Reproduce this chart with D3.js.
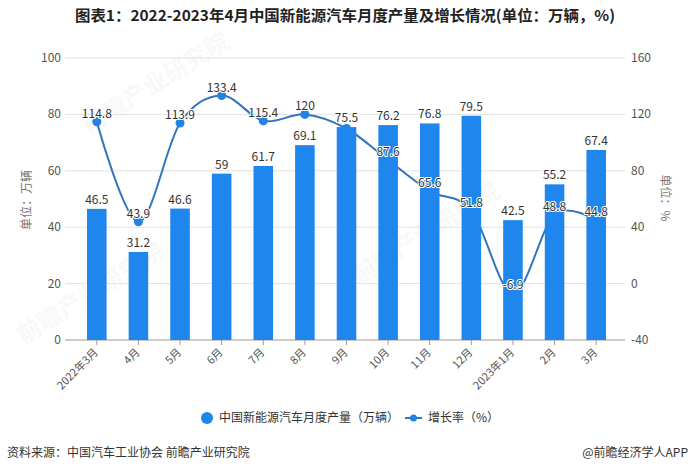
<!DOCTYPE html>
<html>
<head>
<meta charset="utf-8">
<script src="https://cdn.jsdelivr.net/npm/d3@7"></script>
<style>
  body { margin: 0; background: #fff; }
  svg text { font-family: "Noto Sans CJK SC", "Noto Sans", sans-serif; }
</style>
</head>
<body>
<div id="chart"></div>
<script>
// data
var months = ["2022年3月", "4月", "5月", "6月", "7月", "8月", "9月", "10月", "11月", "12月", "2023年1月", "2月", "3月"];
var output = [46.5, 31.2, 46.6, 59, 61.7, 69.1, 75.5, 76.2, 76.8, 79.5, 42.5, 55.2, 67.4];
var growth = [114.8, 43.9, 113.9, 133.4, 115.4, 120, 110, 87.6, 65.6, 51.8, -6.9, 48.8, 44.8];
var leftTicks = [0, 20, 40, 60, 80, 100];
var rightTicks = [-40, 0, 40, 80, 120, 160];

var svgWidth = 692;
var svgHeight = 472;

var barColor = "#1e86ec";
var lineColor = "#3274bd";
var dotColor = "#2283e2";

var svg = d3.select("#chart")
  .append("svg")
  .attr("width", svgWidth)
  .attr("height", svgHeight);

// faint watermarks
var marks = [[160, 90], [95, 300], [430, 240]];
marks.forEach(function(m) {
  svg.append("text")
    .attr("transform", `translate(${m[0]},${m[1]}) rotate(-32)`)
    .attr("text-anchor", "middle")
    .style("font-size", "24px")
    .style("font-weight", "bold")
    .style("fill", "#000")
    .style("opacity", 0.022)
    .text("前瞻产业研究院");
});

// title
svg.append("text")
  .attr("x", 75)
  .attr("y", 21)
  .attr("textLength", 540)
  .attr("lengthAdjust", "spacingAndGlyphs")
  .style("font-size", "15px")
  .style("font-weight", "bold")
  .style("fill", "#222")
  .text("图表1：2022-2023年4月中国新能源汽车月度产量及增长情况(单位：万辆，%)");

// scales
var x = d3.scaleBand()
  .domain(months)
  .range([76, 617])
  .paddingInner(0.53)
  .paddingOuter(0.265);

var yLeft = d3.scaleLinear().domain([0, 100]).range([340, 58]);
var yRight = d3.scaleLinear().domain([-40, 160]).range([340, 58]);

var gridLeft = 65, gridRight = 625;

// gridlines
svg.append("g")
  .selectAll("line")
  .data(leftTicks)
  .enter()
  .append("line")
  .attr("x1", gridLeft)
  .attr("x2", gridRight)
  .attr("y1", d => yLeft(d))
  .attr("y2", d => yLeft(d))
  .style("stroke", d => d === 0 ? "#9a9a9a" : "#e2e2e2")
  .style("stroke-width", 1);

// left tick labels
svg.append("g")
  .selectAll("text")
  .data(leftTicks)
  .enter()
  .append("text")
  .attr("x", 61)
  .attr("y", d => yLeft(d) + 4)
  .attr("text-anchor", "end")
  .style("font-size", "12px")
  .style("fill", "#555")
  .text(d => d);

// right tick labels
svg.append("g")
  .selectAll("text")
  .data(rightTicks)
  .enter()
  .append("text")
  .attr("x", 631)
  .attr("y", d => yRight(d) + 4)
  .style("font-size", "12px")
  .style("fill", "#555")
  .text(d => d);

// axis titles
svg.append("text")
  .attr("transform", "translate(31,200) rotate(-90)")
  .attr("text-anchor", "middle")
  .style("font-size", "12px")
  .style("fill", "#777")
  .text("单位：万辆");

svg.append("text")
  .attr("transform", "translate(661,198) rotate(90)")
  .attr("text-anchor", "middle")
  .style("font-size", "12px")
  .style("fill", "#777")
  .text("单位：%");

// x axis ticks and labels
var xAxis = svg.append("g");
xAxis.selectAll("line")
  .data(months)
  .enter()
  .append("line")
  .attr("x1", d => x(d) + x.bandwidth() / 2)
  .attr("x2", d => x(d) + x.bandwidth() / 2)
  .attr("y1", 340)
  .attr("y2", 345)
  .style("stroke", "#9a9a9a");

xAxis.selectAll("text")
  .data(months)
  .enter()
  .append("text")
  .attr("transform", d => `translate(${x(d) + x.bandwidth() / 2 + 2},${353}) rotate(-45)`)
  .attr("text-anchor", "end")
  .style("font-size", "11px")
  .style("fill", "#555")
  .text(d => d);

// growth line (drawn behind the bars)
var linePoints = months.map((m, i) => [x(m) + x.bandwidth() / 2, yRight(growth[i])]);

svg.append("path")
  .datum(linePoints)
  .attr("d", d3.line().curve(d3.curveCatmullRom.alpha(0)))
  .style("fill", "none")
  .style("stroke", lineColor)
  .style("stroke-width", 2);

svg.append("g")
  .selectAll("circle")
  .data(linePoints)
  .enter()
  .append("circle")
  .attr("cx", d => d[0])
  .attr("cy", d => d[1])
  .attr("r", 4.5)
  .style("fill", dotColor);

// bars
svg.append("g")
  .selectAll("rect")
  .data(output)
  .enter()
  .append("rect")
  .attr("x", (d, i) => x(months[i]))
  .attr("y", d => yLeft(d))
  .attr("width", x.bandwidth())
  .attr("height", d => 340 - yLeft(d))
  .style("fill", barColor);

// bar labels
var barLabelY = output.map(d => yLeft(d) - 5);
svg.append("g")
  .selectAll("text")
  .data(output)
  .enter()
  .append("text")
  .attr("x", (d, i) => x(months[i]) + x.bandwidth() / 2)
  .attr("y", (d, i) => barLabelY[i])
  .attr("text-anchor", "middle")
  .style("font-size", "12px")
  .style("fill", "#333")
  .style("stroke", "#fff")
  .style("stroke-width", 2)
  .style("paint-order", "stroke")
  .text(d => d);

// line labels, hidden where they would overlap a bar label
svg.append("g")
  .selectAll("text")
  .data(growth)
  .enter()
  .append("text")
  .attr("x", (d, i) => linePoints[i][0])
  .attr("y", d => yRight(d) - 4)
  .attr("text-anchor", "middle")
  .style("display", (d, i) => Math.abs(yRight(d) - 4 - barLabelY[i]) > 12 ? null : "none")
  .style("font-size", "12px")
  .style("fill", "#333")
  .style("stroke", "#fff")
  .style("stroke-width", 2)
  .style("paint-order", "stroke")
  .text(d => d);

// legend
var legend = svg.append("g");
legend.append("circle")
  .attr("cx", 207)
  .attr("cy", 418)
  .attr("r", 6)
  .style("fill", barColor);
legend.append("text")
  .attr("x", 219)
  .attr("y", 422)
  .style("font-size", "12px")
  .style("fill", "#333")
  .text("中国新能源汽车月度产量（万辆）");
legend.append("line")
  .attr("x1", 405)
  .attr("x2", 422)
  .attr("y1", 418)
  .attr("y2", 418)
  .style("stroke", lineColor)
  .style("stroke-width", 2);
legend.append("circle")
  .attr("cx", 413.5)
  .attr("cy", 418)
  .attr("r", 3.5)
  .style("fill", dotColor);
legend.append("text")
  .attr("x", 428)
  .attr("y", 422)
  .style("font-size", "12px")
  .style("fill", "#333")
  .text("增长率（%）");

// footer
svg.append("text")
  .attr("x", 7)
  .attr("y", 457)
  .style("font-size", "12px")
  .style("fill", "#333")
  .text("资料来源：中国汽车工业协会 前瞻产业研究院");

svg.append("text")
  .attr("x", 688)
  .attr("y", 457)
  .attr("text-anchor", "end")
  .style("font-size", "12px")
  .style("fill", "#333")
  .text("@前瞻经济学人APP");
</script>
</body>
</html>
